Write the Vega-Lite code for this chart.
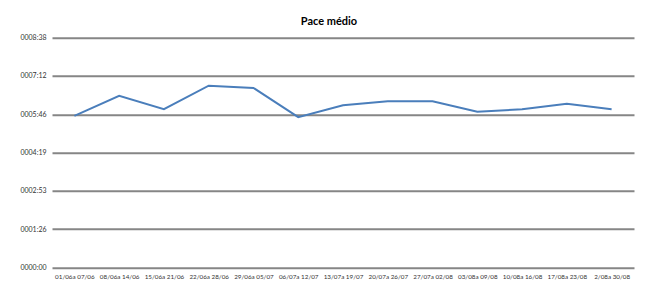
{
  "$schema": "https://vega.github.io/schema/vega-lite/v6.json",
  "autosize": "none",
  "width": 582,
  "height": 229.6,
  "padding": {"left": 52, "top": 37.7, "right": 26, "bottom": 39},
  "background": "white",
  "title": {"text": "Pace médio", "font": "Lato", "fontSize": 11, "fontWeight": "bold", "color": "#000000", "offset": 7, "dx": -14},
  "data": {"values": [
    {"semana": "01/06a 07/06", "pace": 342},
    {"semana": "08/06a 14/06", "pace": 387},
    {"semana": "15/06a 21/06", "pace": 357},
    {"semana": "22/06a 28/06", "pace": 410},
    {"semana": "29/06a 05/07", "pace": 405},
    {"semana": "06/07a 12/07", "pace": 339},
    {"semana": "13/07a 19/07", "pace": 366},
    {"semana": "20/07a 26/07", "pace": 375},
    {"semana": "27/07a 02/08", "pace": 375},
    {"semana": "03/08a 09/08", "pace": 351},
    {"semana": "10/08a 16/08", "pace": 357},
    {"semana": "17/08a 23/08", "pace": 369},
    {"semana": "2/08a 30/08", "pace": 357}
  ]},
  "mark": {"type": "line", "color": "#4a7ebb", "strokeWidth": 2},
  "encoding": {
    "x": {"field": "semana", "type": "ordinal", "sort": null, "title": null,
      "scale": {"padding": 0.5},
      "axis": {"labelAngle": 0, "labelOverlap": false, "labelFont": "Lato", "labelFontSize": 6.3, "labelColor": "#333333", "domain": false, "ticks": false, "labelPadding": 6}},
    "y": {"field": "pace", "type": "quantitative", "title": null,
      "scale": {"domain": [0, 518.4], "nice": false, "zero": true},
      "axis": {"values": [0, 86.4, 172.8, 259.2, 345.6, 432, 518.4],
        "labelExpr": "format(floor(round(datum.value)/60),'04d') + ':' + format(round(datum.value)%60,'02d')",
        "labelFont": "Lato", "labelFontSize": 7, "labelColor": "#333333",
        "domain": false, "ticks": false, "labelPadding": 6,
        "grid": true, "gridColor": "#868686", "gridWidth": 2}}
  },
  "config": {"view": {"stroke": null}}
}
